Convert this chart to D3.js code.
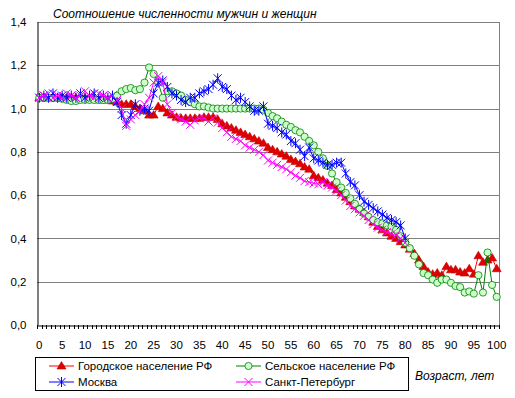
<!DOCTYPE html>
<html>
<head>
<meta charset="utf-8">
<script src="https://cdn.jsdelivr.net/npm/d3@7"></script>
<style>
  body { margin: 0; background: #fff; }
  svg { font-family: "Liberation Sans", Arial, sans-serif; }
</style>
</head>
<body>
<svg id="chart"></svg>
<script>
// ages 0..100
const ages = d3.range(0, 101)

const urban = [
  1.05, 1.05, 1.05, 1.05, 1.05, 1.05, 1.05, 1.05, 1.05, 1.05,
  1.05, 1.045, 1.045, 1.04, 1.04, 1.04, 1.035, 1.03, 1.02, 1.02,
  1.02, 1.01, 1.00, 0.99, 0.97, 0.97, 1.01, 1.00, 0.98, 0.97,
  0.96, 0.955, 0.955, 0.955, 0.955, 0.955, 0.96, 0.96, 0.96, 0.95,
  0.93, 0.92, 0.91, 0.90, 0.89, 0.88, 0.87, 0.86, 0.85, 0.84,
  0.82, 0.81, 0.80, 0.79, 0.78, 0.765, 0.755, 0.745, 0.73, 0.72,
  0.69, 0.68, 0.67, 0.655, 0.645, 0.625, 0.61, 0.59, 0.57, 0.55,
  0.535, 0.52, 0.50, 0.475, 0.455, 0.44, 0.425, 0.41, 0.40, 0.385,
  0.37, 0.35, 0.33, 0.30, 0.27, 0.245, 0.235, 0.24, 0.23, 0.27,
  0.255, 0.255, 0.245, 0.24, 0.26, 0.235, 0.32, 0.29, 0.30, 0.31,
  0.26
]

const rural = [
  1.05, 1.05, 1.05, 1.05, 1.05, 1.045, 1.04, 1.035, 1.035, 1.04,
  1.04, 1.04, 1.04, 1.04, 1.04, 1.04, 1.045, 1.06, 1.08, 1.09,
  1.095, 1.085, 1.09, 1.12, 1.19, 1.16, 1.12, 1.05, 1.08, 1.08,
  1.07, 1.06, 1.04, 1.03, 1.02, 1.01, 1.01, 1.005, 1.00, 1.00,
  1.00, 1.00, 1.00, 1.00, 1.00, 1.00, 1.00, 1.00, 1.00, 0.995,
  0.98, 0.965, 0.955, 0.94, 0.925, 0.915, 0.90, 0.89, 0.87, 0.85,
  0.83, 0.80, 0.77, 0.735, 0.70, 0.66, 0.635, 0.61, 0.585, 0.56,
  0.535, 0.515, 0.50, 0.485, 0.475, 0.47, 0.46, 0.455, 0.44, 0.41,
  0.38, 0.355, 0.32, 0.28, 0.24, 0.23, 0.21, 0.195, 0.21, 0.21,
  0.195, 0.18, 0.175, 0.15, 0.155, 0.145, 0.23, 0.15, 0.335, 0.185,
  0.13
]

// Moscow and St Petersburg: ages 0..80
const moscow = [
  1.05, 1.06, 1.05, 1.07, 1.05, 1.06, 1.05, 1.06, 1.05, 1.07,
  1.05, 1.06, 1.07, 1.05, 1.06, 1.05, 1.06, 1.03, 0.97, 0.93,
  0.97, 1.02, 0.99, 1.00, 0.99, 1.07, 1.12, 1.13, 1.10, 1.07,
  1.06, 1.04, 1.03, 1.05, 1.05, 1.07, 1.08, 1.09, 1.11, 1.14,
  1.10, 1.09, 1.06, 1.04, 1.05, 1.03, 1.01, 0.99, 0.99, 1.01,
  0.93, 0.92, 0.91, 0.89, 0.88, 0.85, 0.84, 0.81, 0.78, 0.82,
  0.77, 0.76, 0.75, 0.74, 0.74, 0.75, 0.75, 0.70, 0.66, 0.645,
  0.60, 0.57, 0.555, 0.54, 0.525, 0.51, 0.495, 0.485, 0.475, 0.46,
  0.40
]

const spb = [
  1.05, 1.06, 1.07, 1.05, 1.06, 1.05, 1.07, 1.06, 1.05, 1.06,
  1.08, 1.06, 1.05, 1.07, 1.06, 1.05, 1.06, 1.04, 1.00, 0.92,
  0.95, 0.97, 0.99, 1.02, 1.05, 1.12, 1.15, 1.12, 1.02, 0.98,
  0.96, 0.95, 0.94, 0.925, 0.945, 0.955, 0.955, 0.94, 0.955, 0.935,
  0.91, 0.89, 0.87, 0.86, 0.85, 0.83, 0.82, 0.81, 0.80, 0.785,
  0.76, 0.75, 0.74, 0.73, 0.72, 0.705, 0.69, 0.68, 0.665, 0.66,
  0.655, 0.65, 0.66, 0.645, 0.635, 0.62, 0.60, 0.575, 0.55, 0.535,
  0.52, 0.505, 0.485, 0.465, 0.45, 0.44, 0.43, 0.42, 0.415, 0.40,
  0.38
]

const yTicks = [0, 0.2, 0.4, 0.6, 0.8, 1.0, 1.2, 1.4]
const xTicks = d3.range(0, 101, 5)

const series = [
  { name: 'Городское население РФ', values: urban, color: '#ff0000', marker: 'triangle' },
  { name: 'Сельское население РФ', values: rural, color: '#008000', marker: 'circle' },
  { name: 'Москва', values: moscow, color: '#0000ff', marker: 'star' },
  { name: 'Санкт-Петербург', values: spb, color: '#ff00ff', marker: 'cross' }
]

const width = 515, height = 398
const plot = { left: 37, right: 499, top: 22, bottom: 325 }

const svg = d3.select('#chart')
  .attr('width', width)
  .attr('height', height)

const x = d3.scaleBand()
  .domain(ages)
  .range([plot.left, plot.right])

const y = d3.scaleLinear()
  .domain([0, 1.4])
  .range([plot.bottom, plot.top])

const cx = a => x(a) + x.bandwidth() / 2
const fmt = d => d3.format('.1f')(d).replace('.', ',')

// gridlines
svg.append('g')
  .selectAll('line')
  .data(yTicks.filter(d => d > 0))
  .join('line')
  .attr('x1', plot.left).attr('x2', plot.right)
  .attr('y1', d => Math.round(y(d)) + 0.5).attr('y2', d => Math.round(y(d)) + 0.5)
  .attr('stroke', '#808080')

// right border
svg.append('line')
  .attr('x1', plot.right + 0.5).attr('x2', plot.right + 0.5)
  .attr('y1', plot.top).attr('y2', plot.bottom)
  .attr('stroke', '#808080')

// y axis
const yAxis = d3.axisLeft(y).tickValues(yTicks).tickFormat(fmt).tickSize(0).tickPadding(11)
const yAxisG = svg.append('g')
  .attr('transform', `translate(${plot.left + 0.5},0)`)
  .call(yAxis)
yAxisG.select('.domain').attr('stroke', '#000')
yAxisG.selectAll('text').attr('font-size', 11.5).attr('fill', '#000')

// x axis
const xAxis = d3.axisBottom(x).tickValues(xTicks).tickSize(0).tickPadding(15)
const xAxisG = svg.append('g')
  .attr('transform', `translate(0,${plot.bottom + 0.5})`)
  .call(xAxis)
xAxisG.select('.domain').attr('stroke', '#000')
xAxisG.selectAll('text').attr('font-size', 11.5).attr('fill', '#000')

// minor tick marks at category boundaries
svg.append('g')
  .selectAll('line')
  .data(ages.concat([101]))
  .join('line')
  .attr('x1', d => Math.round(d > 100 ? plot.right : x(d)) + 0.5)
  .attr('x2', d => Math.round(d > 100 ? plot.right : x(d)) + 0.5)
  .attr('y1', plot.bottom).attr('y2', plot.bottom + 4)
  .attr('stroke', '#000')

function drawMarker(g, type, color, px, py) {
  if (type === 'triangle') {
    g.append('path')
      .attr('d', `M${px},${py - 4.5}L${px + 4.5},${py + 3}L${px - 4.5},${py + 3}Z`)
      .attr('fill', '#e00000').attr('stroke', '#c00000').attr('stroke-width', 0.6)
  } else if (type === 'circle') {
    g.append('circle')
      .attr('cx', px).attr('cy', py).attr('r', 3.6)
      .attr('fill', '#ccffcc').attr('stroke', color).attr('stroke-width', 0.8)
  } else if (type === 'star') {
    const r = 4
    g.append('path')
      .attr('d', `M${px - r},${py - r}L${px + r},${py + r}M${px - r},${py + r}L${px + r},${py - r}M${px},${py - r - 1}L${px},${py + r + 1}`)
      .attr('stroke', color).attr('stroke-width', 1).attr('fill', 'none')
  } else {
    const r = 4
    g.append('path')
      .attr('d', `M${px - r},${py - r}L${px + r},${py + r}M${px - r},${py + r}L${px + r},${py - r}`)
      .attr('stroke', color).attr('stroke-width', 1).attr('fill', 'none')
  }
}

const line = d3.line()
  .x((d, i) => cx(ages[i]))
  .y(d => y(d))

series.forEach(s => {
  const g = svg.append('g')
  g.append('path')
    .datum(s.values)
    .attr('d', line)
    .attr('fill', 'none')
    .attr('stroke', s.color)
    .attr('stroke-width', 1)
  s.values.forEach((v, i) => drawMarker(g, s.marker, s.color, cx(ages[i]), y(v)))
})

// title
svg.append('text')
  .attr('x', 53).attr('y', 18)
  .attr('font-size', 12).attr('font-style', 'italic')
  .text('Соотношение численности мужчин и женщин')

// axis title
svg.append('text')
  .attr('x', 415).attr('y', 380)
  .attr('font-size', 12).attr('font-style', 'italic')
  .text('Возраст, лет')

// legend
const legend = svg.append('g')
legend.append('rect')
  .attr('x', 35.5).attr('y', 357.5)
  .attr('width', 373).attr('height', 33)
  .attr('fill', '#fff').attr('stroke', '#000')

const legendPos = [[49, 366], [236, 366], [49, 382], [236, 382]]
series.forEach((s, i) => {
  const [lx, ly] = legendPos[i]
  legend.append('line')
    .attr('x1', lx).attr('x2', lx + 25)
    .attr('y1', ly).attr('y2', ly)
    .attr('stroke', s.color)
  drawMarker(legend, s.marker, s.color, lx + 12.5, ly)
  legend.append('text')
    .attr('x', lx + 29).attr('y', ly + 4)
    .attr('font-size', 11.5)
    .text(s.name)
})
</script>
</body>
</html>
